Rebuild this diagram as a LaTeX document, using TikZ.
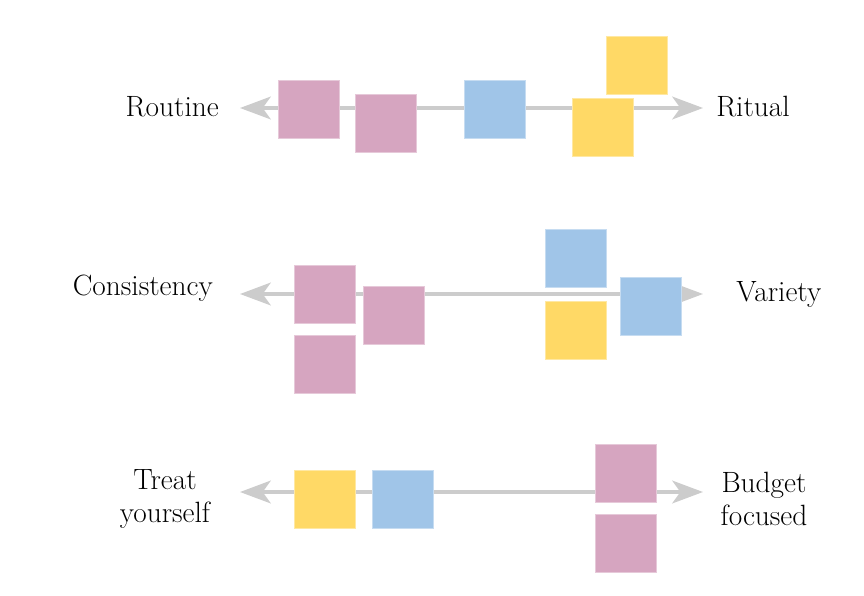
\documentclass[tikz,border=0pt]{standalone}
\usepackage{tikz}
\usetikzlibrary{arrows.meta, positioning}

\definecolor{notepink}{HTML}{D6A5C0}
\definecolor{noteblue}{HTML}{A0C5E8}
\definecolor{noteyellow}{HTML}{FFD966}
\definecolor{axisgray}{HTML}{CCCCCC}

\tikzset{
    axis/.style={draw=axisgray, line width=3pt, {Stealth[length=23pt, width=17pt, inset=6pt]}-{Stealth[length=23pt, width=17pt, inset=6pt]}},
    card/.style={line width=0.5pt, minimum width=45.5pt, minimum height=43.5pt, inner sep=0pt},
    pinkcard/.style={card, fill=notepink, draw=notepink!60!white},
    bluecard/.style={card, fill=noteblue, draw=noteblue!60!white},
    yellowcard/.style={card, fill=noteyellow, draw=noteyellow!60!white},
    pole/.style={font=\fontsize{22}{25}\selectfont, align=center, inner sep=0pt}
}

\begin{document}
\begin{tikzpicture}[x=0.75pt, y=-0.75pt]
    \useasboundingbox (0,0) rectangle (864,596);

    % ---------------- ROW 1: Routine / Ritual ----------------
    \coordinate (r1l) at (240,108);
    \coordinate (r1r) at (703,108);
    \draw[axis] (r1l) -- (r1r);
    \node[pole, anchor=east] (routine) at (219,107) {Routine};
    \node[pole, anchor=west] (ritual) at (716,107) {Ritual};

    \node[pinkcard] (r1a) at (309,109) {};
    \node[pinkcard] (r1b) at (386,123) {};
    \node[bluecard] (r1c) at (494.5,109) {};
    \node[yellowcard] (r1d) at (637,65) {};
    \node[yellowcard] (r1e) at (603,127) {};

    % ---------------- ROW 2: Consistency / Variety ----------------
    \coordinate (r2l) at (240,294);
    \coordinate (r2r) at (703,294);
    \draw[axis] (r2l) -- (r2r);
    \node[pole, anchor=east] (consistency) at (213,288) {Consistency};
    \node[pole, anchor=west] (variety) at (736,294) {Variety};

    \node[pinkcard] (r2a) at (325,294) {};
    \node[pinkcard] (r2b) at (394,315.5) {};
    \node[pinkcard] (r2c) at (325,364) {};
    \node[bluecard] (r2d) at (576,258) {};
    \node[yellowcard] (r2e) at (576,330) {};
    \node[bluecard] (r2f) at (650.5,306) {};

    % ---------------- ROW 3: Treat yourself / Budget focused ----------------
    \coordinate (r3l) at (240,492);
    \coordinate (r3r) at (703,492);
    \draw[axis] (r3l) -- (r3r);
    \node[pole] (treat) at (165,499) {Treat\\yourself};
    \node[pole] (budget) at (764,499) {Budget\\focused};

    \node[yellowcard] (r3a) at (325,499) {};
    \node[bluecard] (r3b) at (403,499) {};
    \node[pinkcard] (r3c) at (626,473.5) {};
    \node[pinkcard] (r3d) at (626,543) {};
\end{tikzpicture}
\end{document}
